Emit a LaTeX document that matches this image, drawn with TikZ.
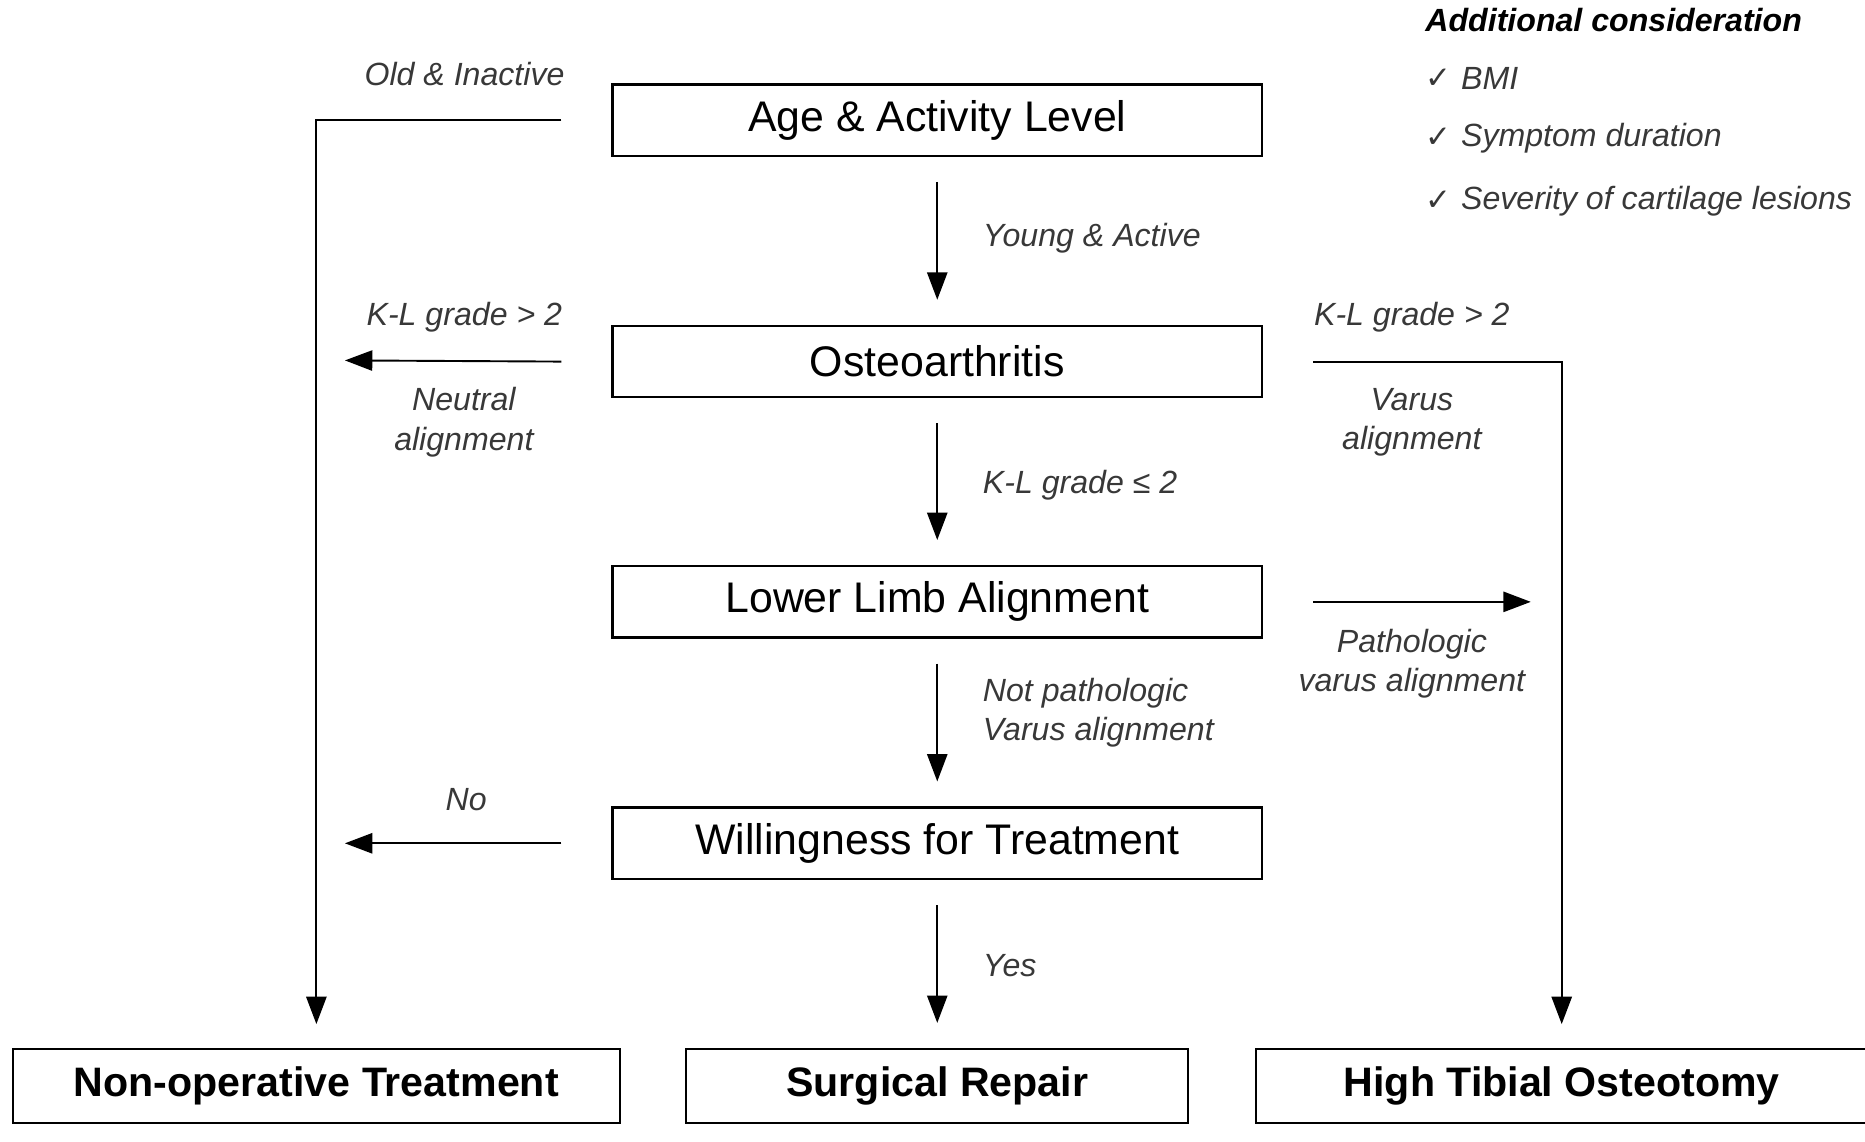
\documentclass[tikz,border=0pt]{standalone}
\usepackage{fontspec}
\setmainfont{Liberation Sans}
\newfontfamily\symfont{DejaVu Sans}
\usepackage{xcolor}
\usetikzlibrary{arrows.meta}
\definecolor{labelgray}{gray}{0.22}

\begin{document}
\begin{tikzpicture}[x=0.5pt,y=-0.5pt,
                stepbox/.style = {draw, line width=1pt, minimum width=273pt, minimum height=30pt,
                                  font=\fontsize{18}{20}\selectfont},
                endbox/.style = {draw, line width=1pt, minimum height=31pt,
                                 font=\fontsize{17.3}{20}\selectfont\bfseries},
                lbl/.style = {text=labelgray, font=\fontsize{13.5}{16.5}\selectfont\itshape, inner sep=0pt},
                link/.style = {line width=0.8pt, -{Triangle[width=8.5pt,length=11.5pt]}},
                gap/.style = {shorten <=10.5pt, shorten >=10.5pt},
                tick/.style = {text=labelgray, font=\symfont\fontsize{13}{14}\selectfont}]
            \useasboundingbox (0,0) rectangle (1568,960);
            \node[stepbox] (age) at (788,101) {Age \& Activity Level};
            \node[stepbox] (oa) at (788,304) {Osteoarthritis};
            \node[stepbox] (lla) at (788,506) {Lower Limb Alignment};
            \node[stepbox] (will) at (788,709) {Willingness for Treatment};
            \node[endbox, minimum width=255pt] (nonop) at (266,913) {Non-operative Treatment};
            \node[endbox, minimum width=211pt] (surg) at (788,913) {Surgical Repair};
            \node[endbox, minimum width=257pt] (hto) at (1313,913) {High Tibial Osteotomy};
            \coordinate (oaleft) at (290,303);
            \coordinate (willleft) at (290,709);
            \coordinate (llaright) at (1287,506);
            \draw[link, gap] (age) -- (oa);
            \draw[link, gap] (oa) -- (lla);
            \draw[link, gap] (lla) -- (will);
            \draw[link, gap] (will) -- (surg);
            \draw[link, shorten >=10pt] ([xshift=-21pt]age.west) -| (nonop.north);
            \draw[link, shorten >=10pt] ([xshift=21pt]oa.east) -| (hto.north);
            \draw[link] ([xshift=-21pt]oa.west) -- (oaleft);
            \draw[link] ([xshift=-21pt]will.west) -- (willleft);
            \draw[link] ([xshift=21pt]lla.east) -- (llaright);
            \node[lbl, anchor=east] (oldlbl) at (475,62) {Old \& Inactive};
            \node[lbl, anchor=west] (younglbl) at (826,200) {Young \& Active};
            \node[lbl, anchor=east] (klleft) at (473,267) {K-L grade > 2};
            \node[lbl, align=center] (neutral) at (390,355) {Neutral\\alignment};
            \node[lbl, anchor=west] (kllow) at (826,408) {K-L grade ≤ 2};
            \node[lbl] (klright) at (1187,267) {K-L grade > 2};
            \node[lbl, align=center] (varus) at (1187,355) {Varus\\alignment};
            \node[lbl, align=center] (patho) at (1187,558) {Pathologic\\varus alignment};
            \node[lbl, anchor=west, align=left] (notpatho) at (826,599) {Not pathologic\\Varus alignment};
            \node[lbl] (nolbl) at (392,672) {No};
            \node[lbl, anchor=west] (yeslbl) at (826,812) {Yes};
            \node[lbl, anchor=west, text=black, font=\fontsize{13.5}{16}\selectfont\bfseries\itshape] (addl) at (1198,17) {Additional consideration};
            \foreach \name/\ypos/\item in {bmi/66/BMI, sympt/116/Symptom duration, sever/169/Severity of cartilage lesions} {
                \node[tick, anchor=west, inner sep=0pt] (\name tick) at (1198,\ypos) {✓};
                \node[lbl, anchor=west] (\name) at (1228,\ypos) {\item};
            }
            \end{tikzpicture}
\end{document}
